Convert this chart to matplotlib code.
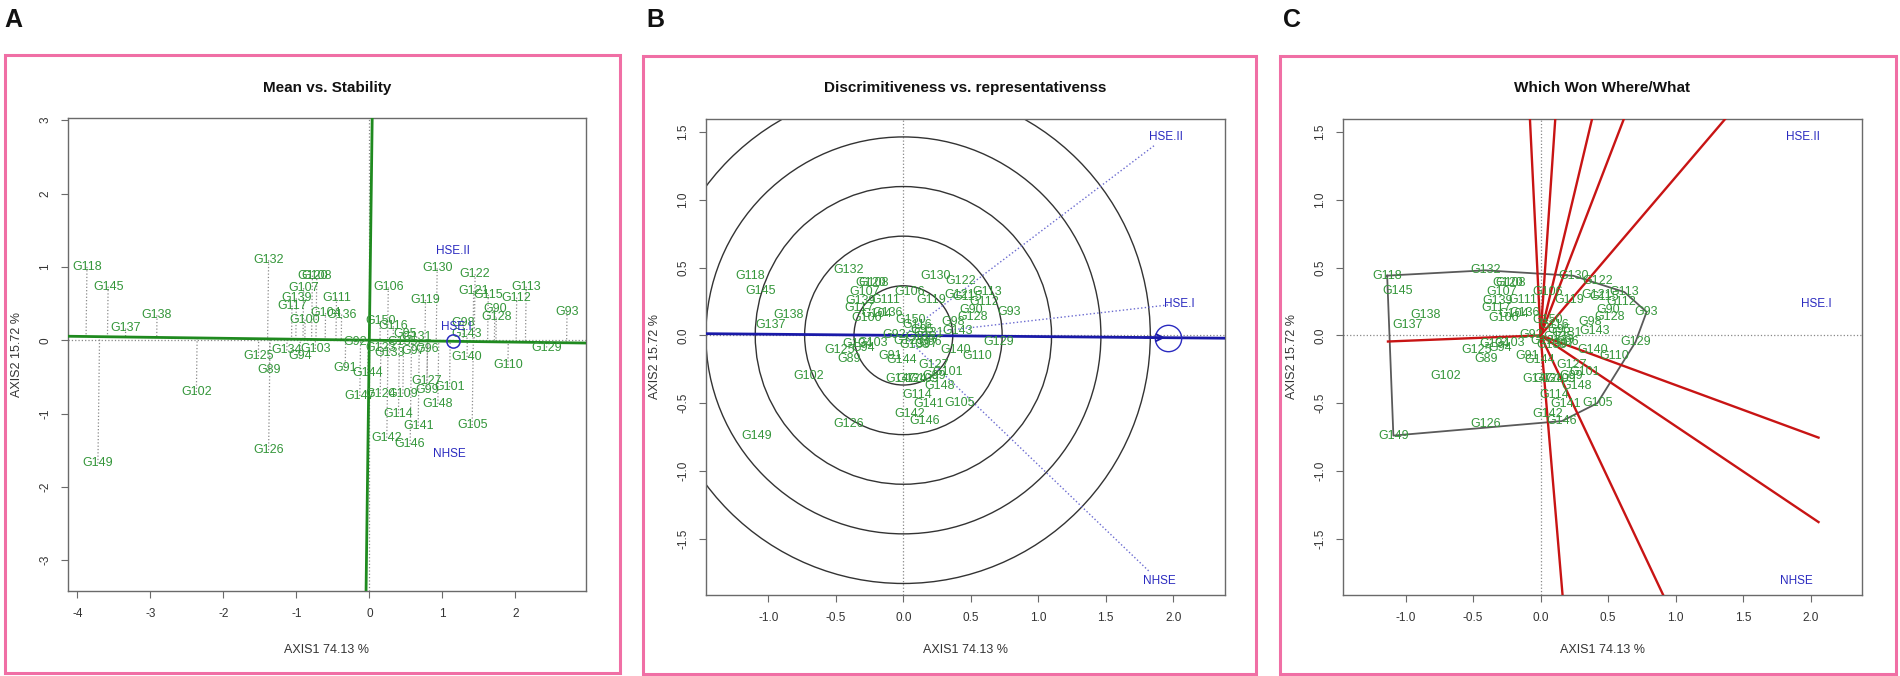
import matplotlib
matplotlib.use('Agg')
import matplotlib.pyplot as plt
import numpy as np
from matplotlib.patches import Rectangle, Circle

plt.rcParams['font.family'] = ['Liberation Sans', 'DejaVu Sans']

# ---------------- data ----------------
genotypes = ['G89', 'G90', 'G91', 'G92', 'G93', 'G94', 'G95', 'G96', 'G97', 'G98',
             'G99', 'G100', 'G101', 'G102', 'G103', 'G104', 'G105', 'G106', 'G107', 'G108',
             'G109', 'G110', 'G111', 'G112', 'G113', 'G114', 'G115', 'G116', 'G117', 'G118',
             'G119', 'G120', 'G121', 'G122', 'G123', 'G124', 'G125', 'G126', 'G127', 'G128',
             'G129', 'G130', 'G131', 'G132', 'G133', 'G134', 'G135', 'G136', 'G137', 'G138',
             'G139', 'G140', 'G141', 'G142', 'G143', 'G144', 'G145', 'G146', 'G147', 'G148',
             'G149', 'G150']

# Panel A (mean vs stability) genotype scores
a_x = [-1.37, 1.72, -0.33, -0.20, 2.71, -0.95, 0.49, 0.80, 0.60, 1.29,
       0.79, -0.88, 1.10, -2.37, -0.74, -0.60, 1.41, 0.26, -0.90, -0.72,
       0.46, 1.90, -0.45, 2.02, 2.15, 0.40, 1.63, 0.33, -1.06, -3.87,
       0.77, -0.78, 1.43, 1.45, 0.15, 0.15, -1.52, -1.38, 0.79, 1.74,
       2.43, 0.93, 0.65, -1.38, 0.28, -1.13, 0.45, -0.38, -3.34, -2.91,
       -1.00, 1.34, 0.67, 0.24, 1.34, -0.02, -3.58, 0.56, -0.13, 0.94,
       -3.72, 0.15]
a_y = [-0.41, 0.42, -0.38, -0.03, 0.39, -0.22, 0.08, -0.12, -0.15, 0.23,
       -0.68, 0.28, -0.64, -0.71, -0.12, 0.37, -1.16, 0.72, 0.71, 0.88,
       -0.73, -0.34, 0.57, 0.58, 0.73, -1.00, 0.62, 0.19, 0.47, 1.00,
       0.55, 0.88, 0.67, 0.90, -0.10, -0.73, -0.22, -1.50, -0.56, 0.31,
       -0.10, 0.98, 0.05, 1.09, -0.17, -0.14, -0.02, 0.35, 0.16, 0.34,
       0.57, -0.23, -1.17, -1.33, 0.08, -0.45, 0.73, -1.42, -0.76, -0.87,
       -1.68, 0.26]

# Panels B and C genotype scores
b_x = [-0.40, 0.50, -0.10, -0.07, 0.785, -0.30, 0.14, 0.20, 0.17, 0.37,
       0.23, -0.27, 0.33, -0.70, -0.23, -0.20, 0.42, 0.05, -0.29, -0.22,
       0.15, 0.545, -0.13, 0.597, 0.62, 0.10, 0.47, 0.10, -0.33, -1.136,
       0.21, -0.24, 0.415, 0.421, 0.04, 0.06, -0.47, -0.409, 0.227, 0.51,
       0.703, 0.242, 0.19, -0.409, 0.08, -0.34, 0.13, -0.12, -0.985, -0.852,
       -0.32, 0.385, 0.188, 0.05, 0.40, -0.01, -1.055, 0.158, -0.02, 0.27,
       -1.09, 0.05]
b_y = [-0.176, 0.19, -0.15, 0.005, 0.173, -0.095, 0.04, -0.05, -0.065, 0.10,
       -0.30, 0.13, -0.27, -0.30, -0.055, 0.16, -0.50, 0.32, 0.32, 0.385,
       -0.32, -0.152, 0.26, 0.249, 0.32, -0.44, 0.28, 0.08, 0.20, 0.441,
       0.26, 0.39, 0.295, 0.40, -0.04, -0.32, -0.106, -0.65, -0.22, 0.134,
       -0.049, 0.44, 0.02, 0.48, -0.07, -0.06, -0.01, 0.165, 0.076, 0.152,
       0.255, -0.106, -0.505, -0.58, 0.03, -0.185, 0.325, -0.632, -0.32, -0.375,
       -0.739, 0.11]

environments = ['HSE.II', 'HSE.I', 'NHSE']
env_a_x = [1.15, 1.19, 1.10]
env_a_y = [1.22, 0.18, -1.55]
env_b_x = [1.945, 2.045, 1.894]
env_b_y = [1.465, 0.234, -1.81]

aea_a = [1.15, -0.015]      # average environment, panel A
aea_b = [1.96, -0.017]      # average environment, panel B
ring_radii = [0.366, 0.732, 1.098, 1.464, 1.83]

hull_genotypes = ['G118', 'G132', 'G130', 'G113', 'G93', 'G129', 'G105', 'G146', 'G149']
ray_end_x = [-0.079, 0.109, 0.382, 0.618, 1.37, 2.058, 2.058, 0.915, 0.164, -1.13]
ray_end_y = [1.60, 1.60, 1.60, 1.60, 1.60, -0.754, -1.377, -1.93, -1.93, -0.045]

titles = ['Mean vs. Stability', 'Discrimitiveness vs. representativenss', 'Which Won Where/What']
panel_letters = ['A', 'B', 'C']
xlabel = 'AXIS1 74.13 %'
ylabel = 'AXIS2 15.72 %'

# ---------------- styling ----------------
W, H = 1900, 676
GREEN = '#34963a'
BLUE = '#2b2bc0'
PINK = '#f06fa5'
fig = plt.figure(figsize=(W / 100, H / 100), dpi=100)
fig.patch.set_facecolor('white')


def axes_px(l, t, r, b):
    return fig.add_axes([l / W, 1 - b / H, (r - l) / W, (b - t) / H])


def frame_px(l, t, r, b):
    fig.patches.append(Rectangle((l / W, 1 - b / H), (r - l) / W, (b - t) / H,
                                 transform=fig.transFigure, fill=False,
                                 ec=PINK, lw=2.2))


def style_axes(ax, xt, yt, fmt):
    for s in ax.spines.values():
        s.set_color('#6a6a6a')
        s.set_linewidth(1.0)
    ax.set_xticks(xt)
    ax.set_yticks(yt)
    ax.set_xticklabels([fmt.format(v) for v in xt])
    ax.set_yticklabels([fmt.format(v) for v in yt], rotation=90, va='center')
    ax.tick_params(direction='out', length=5, width=0.8, color='#6a6a6a',
                   labelsize=8.5, labelcolor='#333333')
    ax.tick_params(axis='x', pad=7)
    ax.tick_params(axis='y', pad=7)


panels = [(68, 118, 586, 591), (706, 118.5, 1224.5, 595), (1343, 118.5, 1862, 595)]
frames = [(5, 55, 620, 673), (642.5, 55.5, 1256, 674), (1279.5, 55.5, 1896, 674)]
letter_x = [13, 655, 1292]

for i in range(3):
    frame_px(*frames[i])
    l, t, r, b = panels[i]
    fig.text((l + r) / 2 / W, 1 - 88 / H, titles[i], ha='center', va='center',
             fontsize=11, fontweight='bold', color='#111111')
    fig.text((l + r) / 2 / W, 1 - 650 / H, xlabel, ha='center', va='center',
             fontsize=9, color='#333333')
    fig.text((l - 51) / W, 1 - ((t + b) / 2) / H, ylabel, ha='center', va='center',
             rotation=90, fontsize=9, color='#333333')
    fig.text(letter_x[i] / W, 1 - 20 / H, panel_letters[i], ha='center', va='center',
             fontsize=18, fontweight='bold', color='#111111')

# ---------------- Panel A ----------------
axA = axes_px(*panels[0])
axA.set_xlim(-4.13, 2.97)
axA.set_ylim(-3.42, 3.03)
style_axes(axA, [-4, -3, -2, -1, 0, 1, 2], [-3, -2, -1, 0, 1, 2, 3], '{:d}')
axA.axhline(0, color='#888888', ls=':', lw=0.9)
axA.axvline(0, color='#888888', ls=':', lw=0.9)
m = aea_a[1] / aea_a[0]
xs = np.array(axA.get_xlim())
ys = np.array(axA.get_ylim())
axA.plot(xs, m * xs, color='#1f8a1f', lw=2.0, zorder=3)
axA.plot(-m * ys, ys, color='#1f8a1f', lw=2.0, zorder=3)
ax_arr = np.array(a_x)
ay_arr = np.array(a_y)
t_proj = (ax_arr + m * ay_arr) / (1 + m * m)
for gx, gy, tp in zip(ax_arr, ay_arr, t_proj):
    axA.plot([gx, tp], [gy, m * tp], color='#8a8a8a', ls=':', lw=0.9, zorder=2)
for name, gx, gy in zip(genotypes, a_x, a_y):
    axA.text(gx, gy, name, ha='center', va='center', fontsize=9, color=GREEN, zorder=5)
for name, ex, ey in zip(environments, env_a_x, env_a_y):
    axA.text(ex, ey, name, ha='center', va='center', fontsize=8.5, color=BLUE, zorder=6)
axA.plot([aea_a[0]], [aea_a[1]], marker='o', ms=9.5, mfc='none', mec=BLUE, mew=1.1, zorder=6)

# ---------------- Panel B ----------------
axB = axes_px(*panels[1])
axB.set_xlim(-1.463, 2.38)
axB.set_ylim(-1.915, 1.60)
bt_x = [-1.0, -0.5, 0.0, 0.5, 1.0, 1.5, 2.0]
bt_y = [-1.5, -1.0, -0.5, 0.0, 0.5, 1.0, 1.5]
style_axes(axB, bt_x, bt_y, '{:.1f}')
axB.axhline(0, color='#888888', ls=':', lw=0.9)
axB.axvline(0, color='#888888', ls=':', lw=0.9)
for rr in ring_radii:
    axB.add_patch(Circle((0, 0), rr, fill=False, ec='#333333', lw=1.0, zorder=2))
for ex, ey in zip(env_b_x, env_b_y):
    axB.plot([0, 0.96 * ex], [0, 0.96 * ey], color='#6b6bd0', ls=':', lw=1.0, zorder=2)
mb = aea_b[1] / aea_b[0]
xsb = np.array(axB.get_xlim())
axB.plot(xsb, mb * xsb, color='#1a1aa8', lw=2.0, zorder=3)
axB.plot([aea_b[0]], [aea_b[1]], marker='o', ms=19, mfc='none', mec=BLUE, mew=1.0, zorder=6)
axB.annotate('', xy=(aea_b[0], aea_b[1]), xytext=(0.9 * aea_b[0], 0.9 * aea_b[1]),
             arrowprops=dict(arrowstyle='->', color='#1a1aa8', lw=1.4, mutation_scale=12),
             zorder=6)
for name, gx, gy in zip(genotypes, b_x, b_y):
    axB.text(gx, gy, name, ha='center', va='center', fontsize=9, color=GREEN, zorder=5)
for name, ex, ey in zip(environments, env_b_x, env_b_y):
    axB.text(ex, ey, name, ha='center', va='center', fontsize=8.5, color=BLUE, zorder=6)

# ---------------- Panel C ----------------
axC = axes_px(*panels[2])
axC.set_xlim(-1.463, 2.38)
axC.set_ylim(-1.915, 1.60)
style_axes(axC, bt_x, bt_y, '{:.1f}')
axC.axhline(0, color='#888888', ls=':', lw=0.9)
axC.axvline(0, color='#888888', ls=':', lw=0.9)
hx = [b_x[genotypes.index(g)] for g in hull_genotypes]
hy = [b_y[genotypes.index(g)] for g in hull_genotypes]
axC.plot(hx + [hx[0]], hy + [hy[0]], color='#5a5a5a', lw=1.3, zorder=3)
for rx, ry in zip(ray_end_x, ray_end_y):
    axC.plot([0, rx], [0, ry], color='#c81414', lw=1.7, zorder=4)
for name, gx, gy in zip(genotypes, b_x, b_y):
    axC.text(gx, gy, name, ha='center', va='center', fontsize=9, color=GREEN, zorder=5)
for name, ex, ey in zip(environments, env_b_x, env_b_y):
    axC.text(ex, ey, name, ha='center', va='center', fontsize=8.5, color=BLUE, zorder=6)

fig.savefig('out.png', dpi=100)
